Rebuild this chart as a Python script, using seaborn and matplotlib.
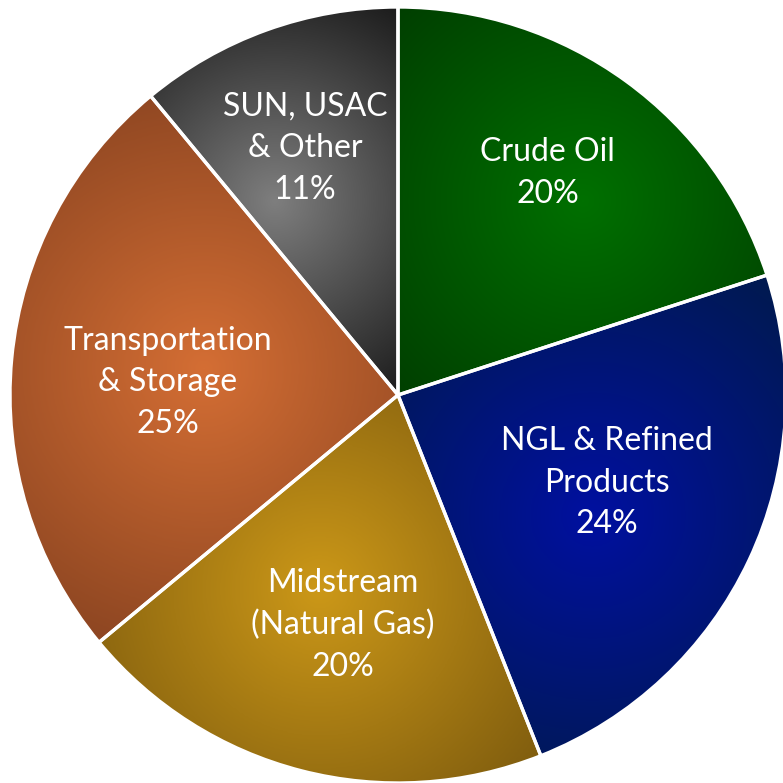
import numpy as np
import matplotlib.pyplot as plt
import seaborn as sns

plt.switch_backend('agg')

# data
segments = ['Crude Oil', 'NGL & Refined\nProducts', 'Midstream\n(Natural Gas)',
            'Transportation\n& Storage', 'SUN, USAC\n& Other']
shares = [20, 24, 20, 25, 11]

# gradient colours per slice: (centre, rim)
centre_colors = ['#007000', '#0010A0', '#CC9818', '#D46E34', '#7E7E7E']
rim_colors = ['#003F00', '#001A4C', '#7C5A0E', '#83401F', '#1C1C1C']
# label placement: radius and angular nudge (deg) from slice bisector
label_radius = [0.69, 0.585, 0.61, 0.595, 0.68]
label_shift = [2.0, 2.4, 1.0, 2.2, 0.8]

sns.set_theme(style='white')
plt.rcParams['font.family'] = ['Lato', 'DejaVu Sans']

fig = plt.figure(figsize=(7.83, 7.83), dpi=100)
ax = fig.add_axes([0, 0, 1, 1])

wedges, _ = ax.pie(shares, startangle=90, counterclock=False, colors=rim_colors,
                   wedgeprops=dict(edgecolor='white', linewidth=2.4))

for i, w in enumerate(wedges):
    # radial gradient centred on the wedge bounding box
    ext = w.get_path().get_extents()
    cx, cy = (ext.x0 + ext.x1) / 2, (ext.y0 + ext.y1) / 2
    n = 300
    xs = np.linspace(ext.x0, ext.x1, n)
    ys = np.linspace(ext.y0, ext.y1, n)
    X, Y = np.meshgrid(xs, ys)
    d = np.hypot(X - cx, Y - cy)
    d = d / d.max()
    cmap = sns.blend_palette([centre_colors[i], rim_colors[i]], n_colors=256, as_cmap=True)
    im = ax.imshow(d, cmap=cmap, vmin=0, vmax=1, origin='lower',
                   extent=(ext.x0, ext.x1, ext.y0, ext.y1), zorder=1,
                   interpolation='bilinear')
    im.set_clip_path(w)
    w.set_facecolor('none')
    w.set_zorder(2)

    mid = np.deg2rad((w.theta1 + w.theta2) / 2 + label_shift[i])
    r = label_radius[i]
    ax.text(r * np.cos(mid), r * np.sin(mid), f'{segments[i]}\n{shares[i]}%',
            ha='center', va='center', color='white', fontsize=23,
            linespacing=1.48, zorder=3)

ax.set_xlim(-398 / 388, 385 / 388)
ax.set_ylim(-388 / 388, 395 / 388)
ax.set_aspect('equal')
ax.axis('off')

fig.savefig('out.png', dpi=100, facecolor='white')
